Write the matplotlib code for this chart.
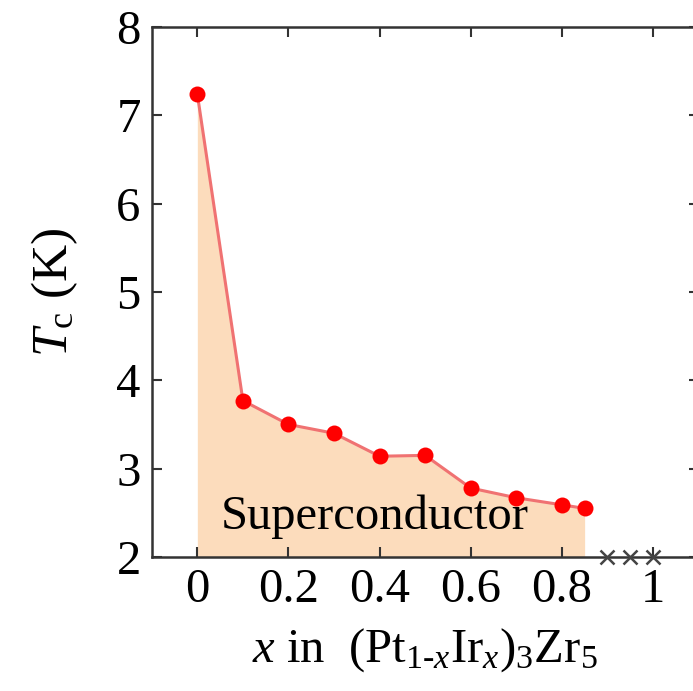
import matplotlib
matplotlib.use('Agg')
import matplotlib.pyplot as plt

# Tc vs Ir content
x_sc = [0.0, 0.1, 0.2, 0.3, 0.4, 0.5, 0.6, 0.7, 0.8, 0.85]
tc_sc = [7.24, 3.77, 3.50, 3.40, 3.14, 3.15, 2.78, 2.67, 2.59, 2.55]
x_none = [0.9, 0.95, 1.0]
tc_none = [2.0, 2.0, 2.0]
xticks = [0, 0.2, 0.4, 0.6, 0.8, 1.0]
xtick_labels = ['0', '0.2', '0.4', '0.6', '0.8', '1']
yticks = [2, 3, 4, 5, 6, 7, 8]

plt.rcParams['font.family'] = ['Liberation Serif', 'DejaVu Serif']
plt.rcParams['mathtext.fontset'] = 'custom'
plt.rcParams['mathtext.rm'] = 'Liberation Serif'
plt.rcParams['mathtext.it'] = 'Liberation Serif:italic'

fig = plt.figure(figsize=(6.93, 6.91), dpi=100)
ax = fig.add_axes([0.219, 0.194, 0.789, 0.767])

ax.fill_between(x_sc, tc_sc, 2, color='#fcdcbc', lw=0, zorder=1)
ax.plot(x_sc, tc_sc, '-', color='#f07272', lw=2.2, zorder=2)
ax.plot(x_sc, tc_sc, 'o', color='#ff0000', ms=11.5, mec='none', zorder=3, clip_on=False)
ax.plot(x_none, tc_none, 'x', color='#444444', ms=10, mew=1.8, zorder=4, clip_on=False)

ax.text(0.39, 2.45, 'Superconductor', fontsize=35, ha='center', va='center', zorder=5)

ax.set_xlim(-0.1, 1.1)
ax.set_ylim(2, 8)
ax.set_xticks(xticks)
ax.set_xticklabels(xtick_labels)
ax.set_yticks(yticks)
ax.tick_params(direction='in', length=7, width=1.5, top=True, right=True,
               labelsize=35, color='#333333', pad=8)
for s in ax.spines.values():
    s.set_linewidth(1.8)
    s.set_color('#333333')

ax.set_xlabel(r'$x$ in  (Pt$_{1\text{-}x}$Ir$_x$)$_3$Zr$_5$', fontsize=35, labelpad=10)
ax.set_ylabel(r'$T_\mathrm{c}$ (K)', fontsize=37, labelpad=26)

fig.savefig('out.png', dpi=100)
